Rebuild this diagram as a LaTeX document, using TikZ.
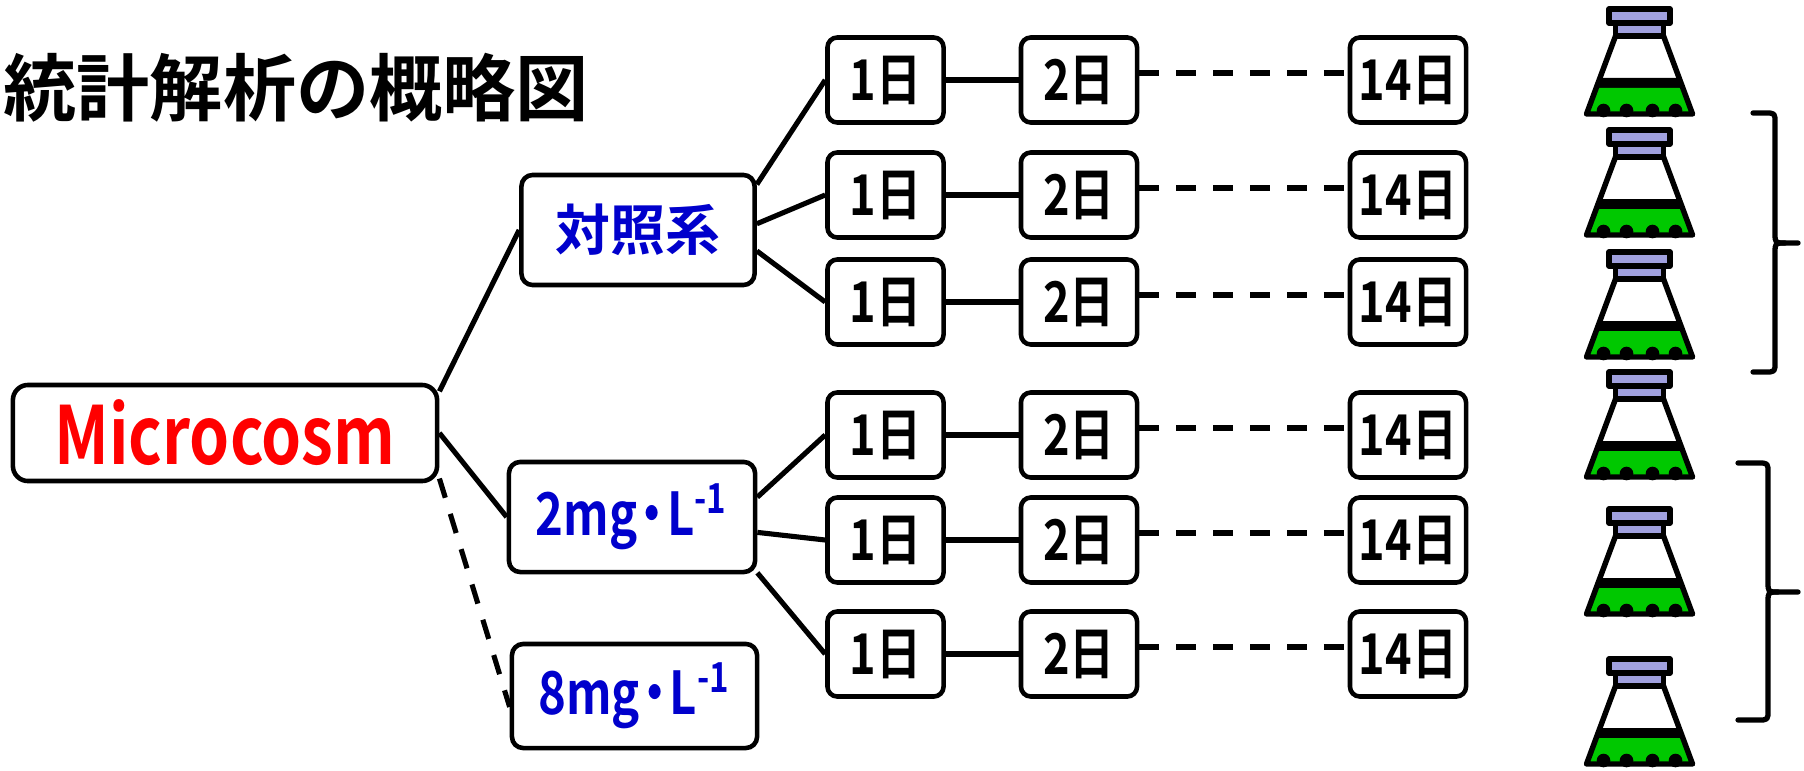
\documentclass[tikz,border=0pt]{standalone}
\usepackage{fontspec}
\usepackage{tikz}
\setmainfont{Noto Sans CJK JP Bold}
\newfontfamily\narrowfont[FakeStretch=0.8]{Noto Sans CJK JP Bold}

\definecolor{capblue}{RGB}{160,160,222}
\definecolor{liquid}{RGB}{0,200,0}
\definecolor{labelblue}{RGB}{0,0,204}

% narrow middle dot for the units
\newcommand{\unitdot}{\makebox[0.5em]{・}}

% one flask, #1 = top of its cap
\newcommand{\flask}[1]{%
  \begin{scope}[shift={(1639.5,#1)}, line width=1.55pt, line join=round]
    \fill (-39.4,71) -- (39.4,71) -- (53,107) -- (-53,107) -- cycle;
    \fill[liquid] (-43.1,81) -- (43.1,81) -- (53,107) -- (-53,107) -- cycle;
    \foreach \bx in {-36,-13,13,36} \fill (\bx,103.5) circle (6.8);
    \draw (-24,29) -- (24,29) -- (53,107) -- (-53,107) -- cycle;
    \filldraw[fill=capblue] (-24,16) rectangle (24,29);
    \filldraw[fill=capblue] (-30.5,2) rectangle (30.5,16);
  \end{scope}}

\begin{document}
\begin{tikzpicture}[x=0.01cm, y=-0.01cm,
  every node/.style={inner sep=0pt},
  daybox/.style={draw, line width=1.3pt, rounded corners=2.8pt,
    minimum width=1.16cm, minimum height=0.85cm,
    font=\narrowfont\fontsize{16}{16}\selectfont},
  groupbox/.style={draw, line width=1.3pt, rounded corners=3.2pt, text=labelblue},
  link/.style={line width=1.45pt},
  dashlink/.style={line width=1.45pt, dash pattern=on 5.7pt off 4.8pt}]
  \useasboundingbox (0,0) rectangle (1804,770);

  \node[anchor=west, font=\fontsize{20.8}{21}\selectfont] (title) at (3,88) {統計解析の概略図};

  \node[draw, line width=1.3pt, rounded corners=4.3pt, minimum width=4.24cm,
    minimum height=0.96cm, text=red, font=\narrowfont\fontsize{22.8}{23}\selectfont]
    (micro) at (225,433) {Microcosm};

  \node[groupbox, minimum width=2.33cm, minimum height=1.10cm,
    font=\fontsize{15.6}{16}\selectfont] (taisho) at (638,230) {対照系};
  \node[groupbox, minimum width=2.46cm, minimum height=1.10cm,
    font=\narrowfont\fontsize{16.8}{17}\selectfont] (conc2) at (632,517) {2mg\unitdot L\textsuperscript{-1}};
  \node[groupbox, minimum width=2.45cm, minimum height=1.04cm,
    font=\narrowfont\fontsize{16.8}{17}\selectfont] (conc8) at (634.5,696) {8mg\unitdot L\textsuperscript{-1}};

  % day boxes, one row per flask
  \foreach \r/\y in {1/80,2/195,3/302,4/435,5/540,6/654} {
    \node[daybox] (a\r) at (885.5,\y) {1日};
    \node[daybox] (b\r) at (1079,\y) {2日};
    \node[daybox] (c\r) at (1408,\y) {14日};
    \draw[link] (a\r) -- (b\r);
    \draw[dashlink] ([yshift=2pt]b\r.east) -- ([yshift=2pt]c\r.west);
  }

  \draw[link] (micro.11) -- (taisho.west);
  \draw[link] (micro.east) -- (conc2.west);
  \draw[dashlink] (micro.-12) -- (conc8.185);

  \draw[link] (taisho.21) -- (a1.west);
  \draw[link] (taisho.3) -- (a2.west);
  \draw[link] (taisho.-10) -- (a3.west);
  \draw[link] (conc2.9) -- (a4.west);
  \draw[link] (conc2.-7) -- (a5.west);
  \draw[link] (conc2.-24) -- (a6.west);

  % flasks
  \foreach \t in {7,128,250,370,507,657} {\flask{\t}}

  % braces
  \draw[line width=1.5pt, line cap=round, line join=round]
    (1753,113) -- (1765,113) .. controls (1775,113) .. (1775,123) -- (1775,233)
    .. controls (1775,243) .. (1785,243) -- (1798,243);
  \draw[line width=1.5pt, line cap=round, line join=round]
    (1785,243) .. controls (1775,243) .. (1775,253) -- (1775,362)
    .. controls (1775,372) .. (1765,372) -- (1753,372);
  \draw[line width=1.5pt, line cap=round, line join=round]
    (1738,463) -- (1758,463) .. controls (1768,463) .. (1768,473) -- (1768,582)
    .. controls (1768,592) .. (1778,592) -- (1798,592);
  \draw[line width=1.5pt, line cap=round, line join=round]
    (1778,592) .. controls (1768,592) .. (1768,602) -- (1768,710)
    .. controls (1768,720) .. (1758,720) -- (1738,720);
\end{tikzpicture}
\end{document}
